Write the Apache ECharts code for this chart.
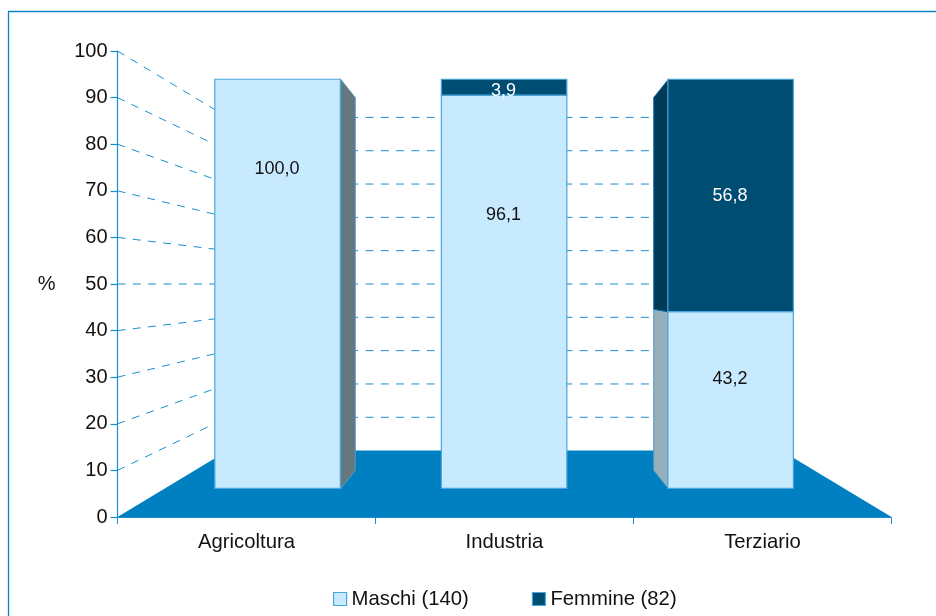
<!DOCTYPE html>
<html><head><meta charset="utf-8">
<style>html,body{margin:0;padding:0;background:#fff}#c{width:936px;height:616px}</style>
<script src="https://cdn.jsdelivr.net/npm/echarts@6/dist/echarts.min.js"></script>
</head><body><div id="c"></div>
<script>
const categories = ['Agricoltura', 'Industria', 'Terziario'];
const maschi = [100.0, 96.1, 43.2];
const femmine = [0, 3.9, 56.8];
const yTicks = [0, 10, 20, 30, 40, 50, 60, 70, 80, 90, 100];
const labelAnchorMaschi = [78.1, 66.8, 26.7];
const labelAnchorFemmine = [0, 97.2, 71.5];

const FONT = '"Liberation Sans", Arial, sans-serif';
const LIGHT = '#c8eaff', DARK = '#004d73', FLOOR = '#0080c0', LINE = '#1a8fd0', EDGE = '#4aa6dc';
const SIDE = { Maschi: ['#66777f', null, '#97b0bc'], Femmine: [null, null, '#003a56'] };
// Perspective depths: multiples applied to the front plane around the vanishing point (value 50, centre of the plot)
const S_WALL = 0.715, S_FRONT = 0.878, S_BACK = 0.80;
const BAR_RATIO = 0.554;

function projector(api) {
  const mid = api.coord([1, 50]);
  return (p, s) => [mid[0] + (p[0] - mid[0]) * s, mid[1] + (p[1] - mid[1]) * s];
}

function renderFloor(params, api) {
  const pr = projector(api);
  const band = api.size([1, 0])[0];
  const a = api.coord([0, 0]), b = api.coord([2, 0]);
  const l = [a[0] - band / 2, a[1]], r = [b[0] + band / 2, b[1]];
  return { type: 'polygon', silent: true,
    shape: { points: [l, r, pr(r, S_WALL), pr(l, S_WALL)] },
    style: { fill: FLOOR } };
}

function renderGrid(params, api) {
  const pr = projector(api);
  const band = api.size([1, 0])[0];
  const v = api.value(0);
  const a = api.coord([0, v]), b = api.coord([2, v]);
  const l = [a[0] - band / 2, a[1]], r = [b[0] + band / 2, b[1]];
  const wl = pr(l, S_WALL), wr = pr(r, S_WALL);
  const style = { stroke: LINE, lineWidth: 1, lineDash: [8, 7.3], fill: null };
  const children = [];
  if (v > 0) {
    children.push({ type: 'line', shape: { x1: l[0], y1: l[1], x2: wl[0], y2: wl[1] }, style });
    children.push({ type: 'line', shape: { x1: wl[0], y1: wl[1], x2: wr[0], y2: wr[1] }, style });
  }
  return { type: 'group', silent: true, children };
}

function barRenderer(seriesKey, fill, textColor, anchors) {
  return function (params, api) {
    const pr = projector(api);
    const i = api.value(0), from = api.value(1), to = api.value(2);
    if (to - from <= 0) return { type: 'group', children: [] };
    const w = api.size([1, 0])[0] * BAR_RATIO;
    const base = api.coord([i, from]), top = api.coord([i, to]);
    const cx = base[0];
    const bl = [cx - w / 2, base[1]], br = [cx + w / 2, base[1]];
    const tl = [cx - w / 2, top[1]], tr = [cx + w / 2, top[1]];
    const children = [];
    const side = SIDE[seriesKey][i];
    if (side) {
      const left = i === 2;
      const f1 = left ? tl : tr, f2 = left ? bl : br;
      children.push({ type: 'polygon',
        shape: { points: [pr(f1, S_FRONT), pr(f1, S_BACK), pr(f2, S_BACK), pr(f2, S_FRONT)] },
        style: { fill: side, stroke: seriesKey === 'Femmine' ? '#0a6fa8' : '#4f9cc4', lineWidth: 1 } });
    }
    const p0 = pr(tl, S_FRONT), p1 = pr(br, S_FRONT);
    children.push({ type: 'rect',
      shape: { x: p0[0] - 0.4, y: p0[1] - 0.2, width: p1[0] - p0[0], height: p1[1] - p0[1] },
      style: { fill, stroke: EDGE, lineWidth: 1.2 } });
    const lab = pr(api.coord([i, anchors[i]]), S_FRONT);
    children.push({ type: 'text',
      style: { x: lab[0] - 1, y: lab[1], text: api.value(3), fill: textColor,
               font: '18px ' + FONT, textAlign: 'center', textVerticalAlign: 'middle' } });
    return { type: 'group', children };
  };
}

const fmt = v => v.toFixed(1).replace('.', ',');
const stacked = (vals, bases) => vals.map((v, i) => [i, bases[i], bases[i] + v, fmt(v)]);

const chart = echarts.init(document.getElementById('c'), null, { renderer: 'canvas' });
chart.setOption({
  animation: false,
  backgroundColor: '#fff',
  textStyle: { fontFamily: FONT },
  graphic: [{ type: 'rect', silent: true, z: -10,
    shape: { x: 8.5, y: 11.5, width: 1000, height: 700 },
    style: { fill: '#fff', stroke: '#0a84c4', lineWidth: 1.3 } }],
  grid: { left: 117.5, right: 44.5, top: 51, bottom: 99, containLabel: false },
  xAxis: { type: 'category', data: categories,
    axisLine: { show: true, lineStyle: { color: LINE, width: 1.2 } },
    axisTick: { show: true, length: 7, alignWithLabel: false, lineStyle: { color: LINE, width: 1 } },
    axisLabel: { color: '#111', fontSize: 20.3, fontFamily: FONT, margin: 15 } },
  yAxis: { type: 'value', min: 0, max: 100, interval: 10, name: '%',
    nameLocation: 'middle', nameRotate: 0, nameGap: 62,
    nameTextStyle: { color: '#111', fontSize: 20, fontFamily: FONT, padding: [0, 0, 4, 0] },
    splitLine: { show: false },
    axisLine: { show: true, lineStyle: { color: LINE, width: 1.2 } },
    axisTick: { show: true, length: 7, lineStyle: { color: LINE, width: 1.2 } },
    axisLabel: { color: '#111', fontSize: 20, fontFamily: FONT, margin: 10, padding: [3, 0, 0, 0] } },
  legend: { bottom: 2, left: 328, itemWidth: 13, itemHeight: 13, itemGap: 63,
    textStyle: { color: '#111', fontSize: 20.3, fontFamily: FONT },
    data: [
      { name: 'Maschi (140)', icon: 'rect', itemStyle: { color: LIGHT, borderColor: EDGE, borderWidth: 1.2 } },
      { name: 'Femmine (82)', icon: 'rect', itemStyle: { color: DARK, borderColor: EDGE, borderWidth: 1.2 } }
    ] },
  series: [
    { type: 'custom', name: 'floor', coordinateSystem: 'cartesian2d', z: 1, clip: false,
      renderItem: renderFloor, data: [[0]], encode: { x: 0 }, tooltip: { show: false } },
    { type: 'custom', name: 'grid', coordinateSystem: 'cartesian2d', z: 2, clip: false,
      renderItem: renderGrid, data: yTicks.map(v => [v]), encode: { y: 0 } },
    { type: 'custom', name: 'Maschi (140)', coordinateSystem: 'cartesian2d', z: 3, clip: false,
      itemStyle: { color: LIGHT },
      renderItem: barRenderer('Maschi', LIGHT, '#111', labelAnchorMaschi),
      data: stacked(maschi, [0, 0, 0]), encode: { x: 0, y: [1, 2] } },
    { type: 'custom', name: 'Femmine (82)', coordinateSystem: 'cartesian2d', z: 4, clip: false,
      itemStyle: { color: DARK },
      renderItem: barRenderer('Femmine', DARK, '#fff', labelAnchorFemmine),
      data: stacked(femmine, maschi), encode: { x: 0, y: [1, 2] } }
  ]
});
</script></body></html>
